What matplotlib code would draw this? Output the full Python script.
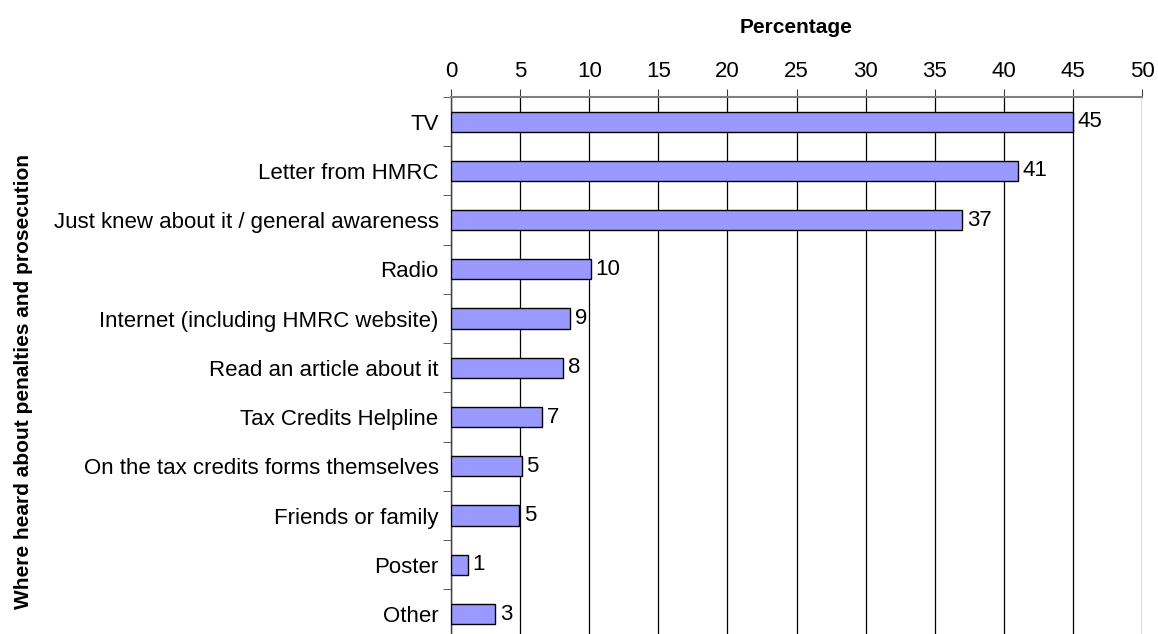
import matplotlib
matplotlib.use("Agg")
import matplotlib.pyplot as plt
import numpy as np

categories = ["TV", "Letter from HMRC", "Just knew about it / general awareness", "Radio",
              "Internet (including HMRC website)", "Read an article about it",
              "Tax Credits Helpline", "On the tax credits forms themselves",
              "Friends or family", "Poster", "Other"]
values = [45, 41, 37, 10.1, 8.6, 8.1, 6.6, 5.1, 4.9, 1.2, 3.2]
labels = ["45", "41", "37", "10", "9", "8", "7", "5", "5", "1", "3"]
xticks = list(range(0, 55, 5))

plt.rcParams['font.family'] = ['Liberation Sans', 'DejaVu Sans']
fig = plt.figure(figsize=(11.58, 6.34), dpi=100)
ax = fig.add_axes([0.3895, -0.0073, 0.5967, 0.8543])

y = np.arange(len(categories))
ax.barh(y, values, height=0.41, color="#9999FF", edgecolor="black", linewidth=1, zorder=3)
for yi, v, l in zip(y, values, labels):
    ax.text(v + 0.35, yi, l, va="center", ha="left", fontsize=16, zorder=4)

ax.set_xlim(0, 50)
ax.set_ylim(len(categories) - 0.5, -0.5)
ax.xaxis.tick_top()
ax.xaxis.set_label_position("top")
ax.set_xticks(xticks)
ax.set_xticklabels([str(t) for t in xticks], fontsize=16)
ax.set_xlabel("Percentage", fontsize=15, fontweight="bold")
ax.xaxis.label.set_va("center")
ax.xaxis.set_label_coords(0.5, 1.129)
ax.tick_params(axis="x", direction="out", length=6, color="#404040", pad=5)
ax.grid(axis="x", color="#000000", linewidth=0.9, zorder=0)

ax.set_yticks(y)
ax.set_yticklabels(categories, fontsize=16)
ax.set_yticks(np.arange(-0.5, len(categories), 1), minor=True)
ax.tick_params(axis="y", which="major", length=0, pad=9)
ax.tick_params(axis="y", which="minor", direction="out", length=6, color="#404040")
ax.set_ylabel("Where heard about penalties and prosecution", fontsize=15, fontweight="bold")
ax.yaxis.label.set_va("center")
ax.yaxis.set_label_coords(-0.619, 0.475)

for s in ["right", "bottom"]:
    ax.spines[s].set_visible(False)
ax.spines["top"].set_color("#808080")
ax.spines["top"].set_linewidth(1.5)
ax.spines["left"].set_color("#404040")
ax.spines["left"].set_linewidth(1)

fig.savefig("out.png", dpi=100)
